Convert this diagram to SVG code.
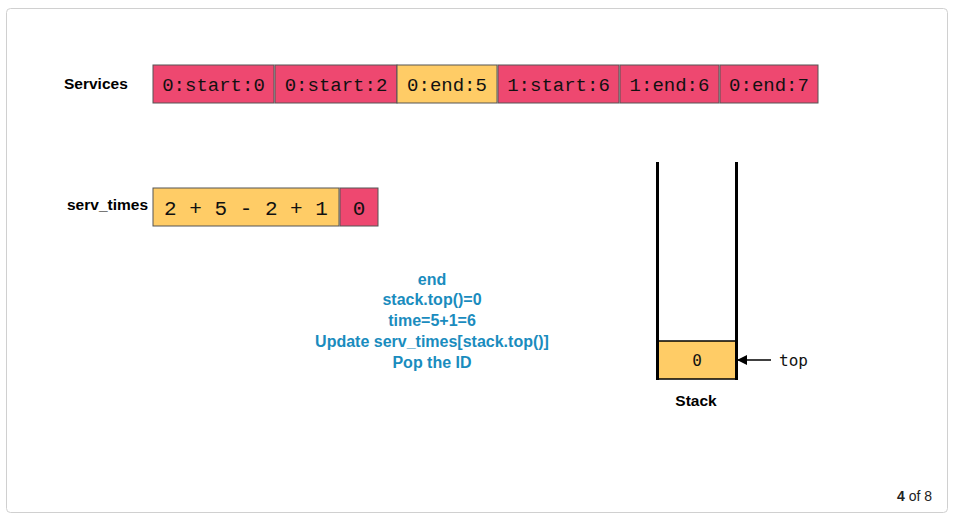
<svg xmlns="http://www.w3.org/2000/svg" width="953" height="515" viewBox="0 0 953 515">
<style>
.lbl{font-family:"Liberation Sans",Arial,sans-serif;font-weight:bold;font-size:15.5px;fill:#000}
.cell{stroke:#555;stroke-width:1}
.pink{fill:#EE4870}
.yel{fill:#FFCC66}
.mono{font-family:"Liberation Mono","DejaVu Sans Mono",monospace;fill:#111}
.dmono{font-family:"DejaVu Sans Mono","Liberation Mono",monospace;fill:#111}
.blue{font-family:"Liberation Sans",Arial,sans-serif;font-weight:bold;font-size:16px;fill:#1A8CBE;text-anchor:middle}
</style>
<defs>
<marker id="ah" markerWidth="10" markerHeight="10" refX="9" refY="5" orient="auto" markerUnits="userSpaceOnUse">
<path d="M0,0 L10,5 L0,10 z" fill="#000"/>
</marker>
</defs>
<rect x="6.5" y="8.5" width="941" height="504" rx="4" fill="#fff" stroke="#d0d0d0"/>
<g id="services">
<text class="lbl" x="64" y="89">Services</text>
<g id="s0"><rect class="cell pink" x="153" y="65" width="121" height="38"/><text class="mono" x="213.5" y="91" font-size="19" text-anchor="middle">0:start:0</text></g>
<g id="s1"><rect class="cell pink" x="275" y="65" width="122" height="38"/><text class="mono" x="336" y="91" font-size="19" text-anchor="middle">0:start:2</text></g>
<g id="s2"><rect class="cell yel" x="397" y="65" width="100" height="38"/><text class="mono" x="447" y="91" font-size="19" text-anchor="middle">0:end:5</text></g>
<g id="s3"><rect class="cell pink" x="498" y="65" width="121" height="38"/><text class="mono" x="558.5" y="91" font-size="19" text-anchor="middle">1:start:6</text></g>
<g id="s4"><rect class="cell pink" x="620" y="65" width="99" height="38"/><text class="mono" x="669.5" y="91" font-size="19" text-anchor="middle">1:end:6</text></g>
<g id="s5"><rect class="cell pink" x="720" y="65" width="98" height="38"/><text class="mono" x="769" y="91" font-size="19" text-anchor="middle">0:end:7</text></g>
</g>
<g id="servtimes">
<text class="lbl" x="67" y="210">serv_times</text>
<g id="t0"><rect class="cell yel" x="153" y="188" width="186" height="38"/><text class="mono" x="246" y="215" font-size="21" text-anchor="middle">2 + 5 - 2 + 1</text></g>
<g id="t1"><rect class="cell pink" x="340" y="188" width="38" height="38"/><text class="mono" x="359" y="215" font-size="21" text-anchor="middle">0</text></g>
</g>
<g id="note">
<text class="blue" x="432" y="285">end</text>
<text class="blue" x="432" y="305">stack.top()=0</text>
<text class="blue" x="432" y="326">time=5+1=6</text>
<text class="blue" x="432" y="347">Update serv_times[stack.top()]</text>
<text class="blue" x="432" y="368">Pop the ID</text>
</g>
<g id="stack">
<rect x="657" y="341" width="79" height="38" fill="#FFCC66" stroke="#000" stroke-width="1.5"/>
<line x1="657.5" y1="162" x2="657.5" y2="380" stroke="#000" stroke-width="3"/>
<line x1="736.5" y1="162" x2="736.5" y2="380" stroke="#000" stroke-width="3"/>
<text class="dmono" x="697" y="366" font-size="16" text-anchor="middle">0</text>
<text class="lbl" x="696" y="406" text-anchor="middle">Stack</text>
</g>
<g id="connectors">
<line x1="771" y1="360" x2="738" y2="360" stroke="#000" stroke-width="1.5" marker-end="url(#ah)"/>
</g>
<g id="toplabel"><text class="dmono" x="779" y="366" font-size="16">top</text></g>
<g id="page"><text x="932" y="501" font-family="Liberation Sans,Arial,sans-serif" font-size="14" text-anchor="end" fill="#222"><tspan font-weight="bold">4</tspan> of 8</text></g>
</svg>
